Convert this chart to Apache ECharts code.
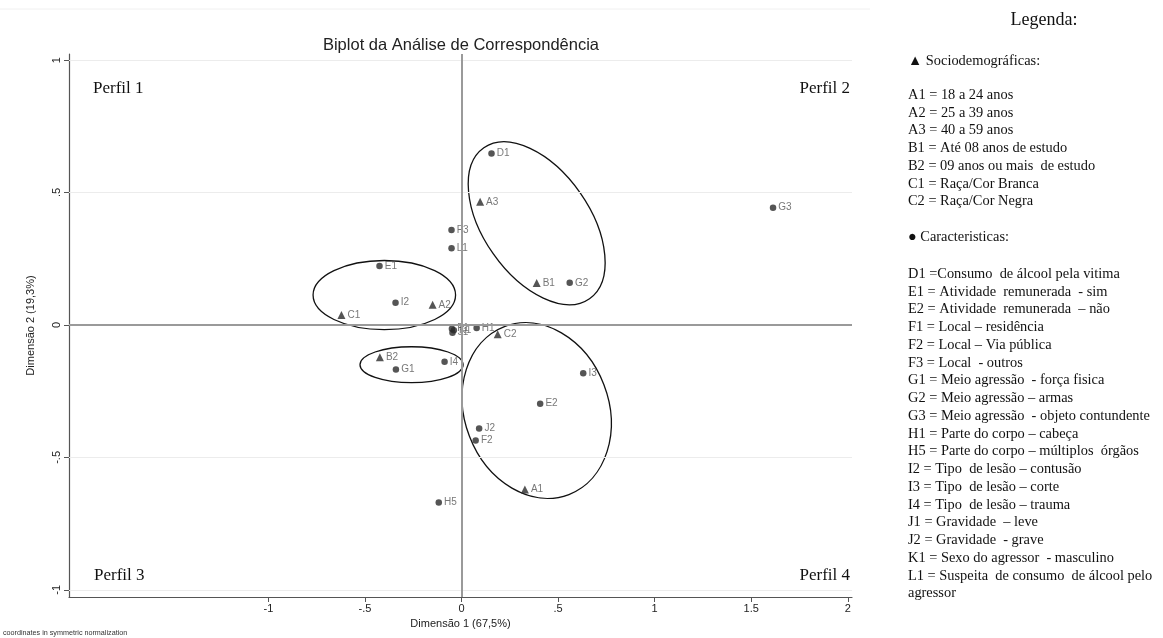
<!DOCTYPE html>
<html><head><meta charset="utf-8">
<script src="https://cdn.jsdelivr.net/npm/echarts@6/dist/echarts.min.js"></script>
<style>html,body{margin:0;padding:0;background:#fff}#c{width:1163px;height:638px}</style>
</head><body><div id="c"></div><script>
// ---- data ----
const socioNames = ['A1','A2','A3','B1','B2','C1','C2'];
const socioX = [0.328,-0.150,0.096,0.389,-0.423,-0.622,0.187];
const socioY = [-0.621,0.076,0.465,0.158,-0.122,0.038,-0.035];
const caracNames = ['D1','E1','E2','F1','F2','F3','G1','G2','G3','H1','H5','I2','I3','I4','J1','J2','K1','L1'];
const caracX = [0.155,-0.425,0.407,-0.050,0.073,-0.052,-0.340,0.560,1.613,0.078,-0.118,-0.342,0.630,-0.088,-0.047,0.091,-0.040,-0.052];
const caracY = [0.647,0.223,-0.297,-0.014,-0.436,0.359,-0.168,0.159,0.443,-0.011,-0.670,0.084,-0.182,-0.139,-0.029,-0.391,-0.020,0.290];
const xTicks = [-1,-0.5,0,0.5,1,1.5,2];
const yTicks = [-1,-0.5,0,0.5,1];
// ellipses: center x, center y, semi-axis a, semi-axis b (x-units), tilt (deg, clockwise)
const ellipseCX = [-0.400,-0.259,0.389,0.389];
const ellipseCY = [0.113,-0.150,0.384,-0.323];
const ellipseA = [0.369,0.267,0.477,0.466];
const ellipseB = [0.179,0.093,0.275,0.373];
const ellipseTilt = [0,0,55,69];
const perfilLabels = ['Perfil 1','Perfil 2','Perfil 3','Perfil 4'];
const legendTitle = 'Legenda:';
const legendSocioHead = '▲ Sociodemográficas:';
const legendSocio = ['A1 = 18 a 24 anos','A2 = 25 a 39 anos','A3 = 40 a 59 anos','B1 = Até 08 anos de estudo','B2 = 09 anos ou mais  de estudo','C1 = Raça/Cor Branca','C2 = Raça/Cor Negra'];
const legendCaracHead = '● Caracteristicas:';
const legendCarac = ['D1 =Consumo  de álcool pela vitima','E1 = Atividade  remunerada  - sim','E2 = Atividade  remunerada  – não','F1 = Local – residência','F2 = Local – Via pública','F3 = Local  - outros','G1 = Meio agressão  - força fisica','G2 = Meio agressão – armas','G3 = Meio agressão  - objeto contundente','H1 = Parte do corpo – cabeça','H5 = Parte do corpo – múltiplos  órgãos','I2 = Tipo  de lesão – contusão','I3 = Tipo  de lesão – corte','I4 = Tipo  de lesão – trauma','J1 = Gravidade  – leve','J2 = Gravidade  - grave','K1 = Sexo do agressor  - masculino','L1 = Suspeita  de consumo  de álcool pelo','agressor'];

const fmt = v => v === 0 ? '0' : (v < 0 ? '-' : '') + String(Math.abs(v)).replace(/^0\./, '.');
const SANS = '"Liberation Sans", Arial, sans-serif';
const SERIF = '"Liberation Serif", "Times New Roman", serif';

const chart = echarts.init(document.getElementById('c'), null, {renderer: 'canvas'});

const graphics = [];
graphics.push({type:'line', shape:{x1:0,y1:9,x2:870,y2:9}, style:{stroke:'#f0f0f0', lineWidth:1}, silent:true});
graphics.push({type:'text', x:461, y:45, style:{text:'Biplot da Análise de Correspondência', font:'16.5px '+SANS, fill:'#222', align:'center', verticalAlign:'middle'}});
const perfilPos = [[93,89,'left'],[850,89,'right'],[94,576,'left'],[850,576,'right']];
perfilLabels.forEach((t,i) => graphics.push({type:'text', x:perfilPos[i][0], y:perfilPos[i][1], style:{text:t, font:'17px '+SERIF, fill:'#111', align:perfilPos[i][2], verticalAlign:'middle'}}));
graphics.push({type:'text', x:3, y:633, style:{text:'coordinates in symmetric normalization', font:'7.2px '+SANS, fill:'#333', align:'left', verticalAlign:'middle'}});
graphics.push({type:'text', x:1044, y:20, style:{text:legendTitle, font:'18px '+SERIF, fill:'#111', align:'center', verticalAlign:'middle'}});
const LX = 908, LH = 17.75, LF = '14.4px '+SERIF;
graphics.push({type:'text', x:LX, y:61, style:{text:legendSocioHead, font:LF, fill:'#111', verticalAlign:'middle'}});
legendSocio.forEach((t,i) => graphics.push({type:'text', x:LX, y:95+i*LH, style:{text:t, font:LF, fill:'#111', verticalAlign:'middle'}}));
graphics.push({type:'text', x:LX, y:237, style:{text:legendCaracHead, font:LF, fill:'#111', verticalAlign:'middle'}});
legendCarac.forEach((t,i) => graphics.push({type:'text', x:LX, y:274+i*LH, style:{text:t, font:LF, fill:'#111', verticalAlign:'middle'}}));

const pointLabel = {show:true, position:'right', distance:2, formatter:'{b}', fontFamily:SANS, fontSize:10, color:'#555'};

chart.setOption({
  animation:false,
  backgroundColor:'#fff',
  grid:{left:69, right:311, top:54, bottom:41, containLabel:false},
  xAxis:{type:'value', min:-2.033, max:2.022,
    name:'Dimensão 1 (67,5%)', nameLocation:'middle', nameGap:19,
    nameTextStyle:{fontFamily:SANS, fontSize:11, color:'#222'},
    axisLine:{show:true, onZero:false, lineStyle:{color:'#555', width:1.2}},
    axisTick:{show:true, length:5, customValues:xTicks, lineStyle:{color:'#555'}},
    axisLabel:{customValues:xTicks, formatter:fmt, fontFamily:SANS, fontSize:11, color:'#222', margin:6},
    splitLine:{show:false}},
  yAxis:{type:'value', min:-1.027, max:1.023,
    name:'Dimensão 2 (19,3%)', nameLocation:'middle', nameGap:33, nameRotate:90,
    nameTextStyle:{fontFamily:SANS, fontSize:11, color:'#222'},
    axisLine:{show:true, onZero:false, lineStyle:{color:'#555', width:1.2}},
    axisTick:{show:true, length:5, customValues:yTicks, lineStyle:{color:'#555'}},
    axisLabel:{customValues:yTicks, formatter:fmt, rotate:90, fontFamily:SANS, fontSize:11, color:'#222', margin:7},
    splitLine:{show:false}},
  graphic:graphics,
  series:[
    {type:'scatter', name:'ref', data:[], silent:true, z:1,
      markLine:{silent:true, symbol:'none', label:{show:false}, animation:false,
        data:[
          ...yTicks.filter(v=>v!==0).map(v=>({yAxis:v, lineStyle:{color:'#ececec', width:1, type:'solid'}})),
          {xAxis:0, lineStyle:{color:'#9a9a9a', width:2, type:'solid'}},
          {yAxis:0, lineStyle:{color:'#9a9a9a', width:2, type:'solid'}}
        ]}},
    {type:'custom', name:'ellipses', coordinateSystem:'cartesian2d', silent:true, clip:false, z:3,
      data: ellipseCX.map((cx,i)=>[cx, ellipseCY[i], ellipseA[i], ellipseB[i], ellipseTilt[i]]),
      encode:{x:0, y:1},
      renderItem:(params, api) => {
        const c = api.coord([api.value(0), api.value(1)]);
        const u = api.size([1,0])[0];
        return {type:'ellipse', x:c[0], y:c[1], rotation:-api.value(4)*Math.PI/180,
          shape:{cx:0, cy:0, rx:api.value(2)*u, ry:api.value(3)*u},
          style:{fill:'none', stroke:'#111', lineWidth:1.3}};
      }},
    {type:'scatter', name:'Sociodemográficas', symbol:'triangle', symbolSize:8, z:4,
      itemStyle:{color:'#2a2a2a'}, label:pointLabel,
      data: socioNames.map((n,i)=>({name:n, value:[socioX[i], socioY[i]]}))},
    {type:'scatter', name:'Caracteristicas', symbol:'circle', symbolSize:6.5, z:4,
      itemStyle:{color:'#2a2a2a'}, label:pointLabel,
      data: caracNames.map((n,i)=>({name:n, value:[caracX[i], caracY[i]]}))}
  ]
});
</script></body></html>
